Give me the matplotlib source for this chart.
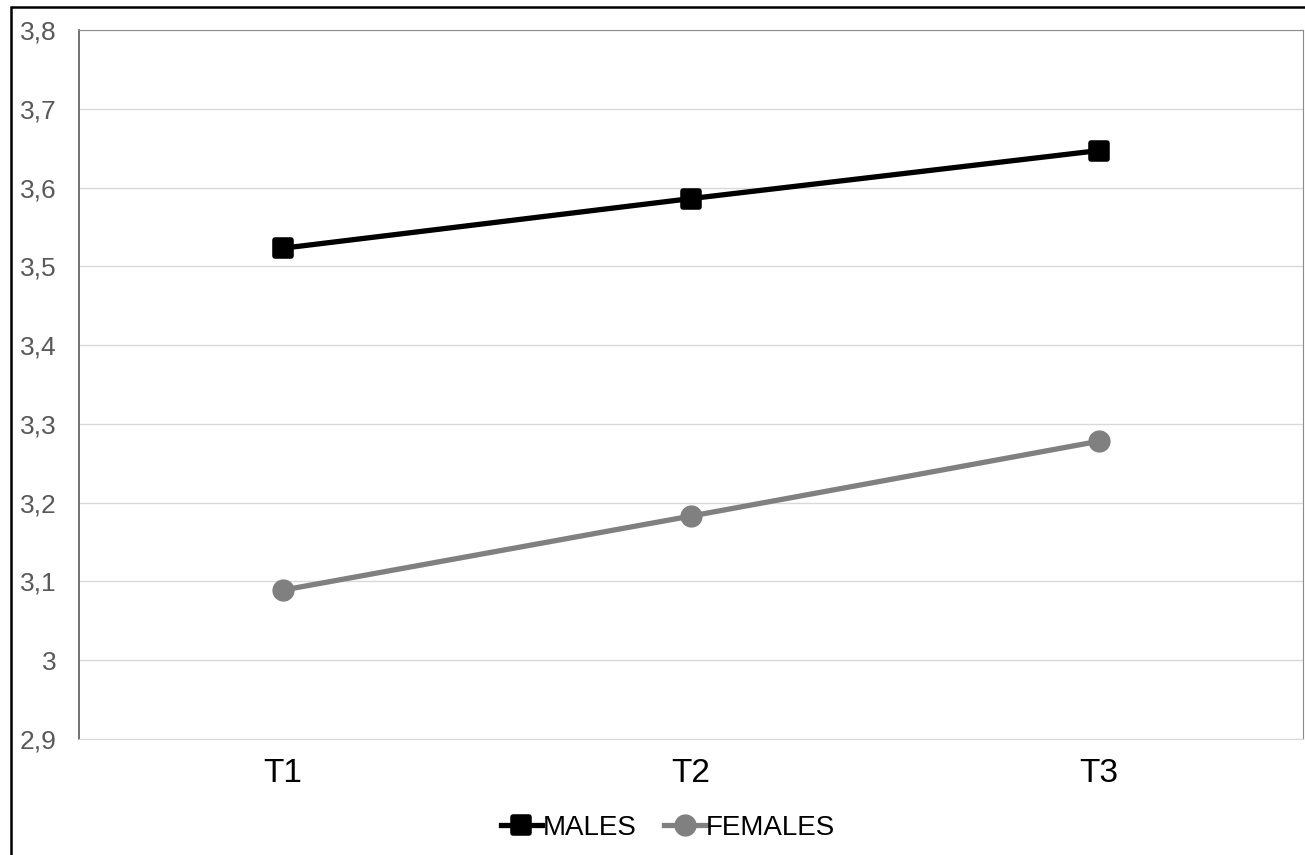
import matplotlib.pyplot as plt
from matplotlib.markers import MarkerStyle
from matplotlib.ticker import FuncFormatter
from matplotlib.patches import Rectangle

plt.rcParams['font.family'] = ['Liberation Sans', 'DejaVu Sans']

# Mean scores per time point
times = ['T1', 'T2', 'T3']
males = [3.523, 3.586, 3.647]
females = [3.089, 3.183, 3.278]

fig = plt.figure(figsize=(13.05, 8.55), dpi=100)
ax = fig.add_axes([79 / 1305, 1 - 739 / 855, (1303 - 79) / 1305, (739 - 30) / 855])

x = range(len(times))
sq = MarkerStyle('s', joinstyle='round')
ax.plot(x, males, color='black', lw=3.8, marker=sq, ms=11,
        mew=4, mec='black', mfc='black', solid_joinstyle='round',
        label='MALES')
ax.plot(x, females, color='#808080', lw=3.8, marker='o', ms=15,
        mec='#808080', mfc='#808080', label='FEMALES')

ax.set_xlim(-0.5, len(times) - 0.5)
ax.set_ylim(2.9, 3.8)
ax.set_yticks([2.9 + 0.1 * i for i in range(10)])
ax.yaxis.set_major_formatter(FuncFormatter(
    lambda v, p: f'{v:.1f}'.rstrip('0').rstrip('.').replace('.', ',')))
ax.set_xticks(list(x))
ax.set_xticklabels(times)

ax.grid(axis='y', color='#d9d9d9', lw=1)
ax.set_axisbelow(True)
ax.tick_params(axis='y', length=0, pad=16, labelsize=19, labelcolor='#595959')
ax.tick_params(axis='x', length=0, pad=14, labelsize=24, labelcolor='black')

ax.spines['left'].set_color('#595959')
ax.spines['left'].set_linewidth(1.2)
ax.spines['top'].set_color('#8c8c8c')
ax.spines['right'].set_color('#8c8c8c')
ax.spines['bottom'].set_color('#d9d9d9')

leg = ax.legend(loc='center', bbox_to_anchor=(0.481, -0.125), ncol=2,
                frameon=False, fontsize=20, handlelength=1.5,
                handletextpad=0.0, columnspacing=1.0)

# outer chart border
fig.patches.append(Rectangle((11 / 1305, -0.1), 1.2, 1 - 7 / 855 + 0.1,
                             transform=fig.transFigure, fill=False,
                             edgecolor='black', lw=1.8))

fig.savefig('out.png', dpi=100)
